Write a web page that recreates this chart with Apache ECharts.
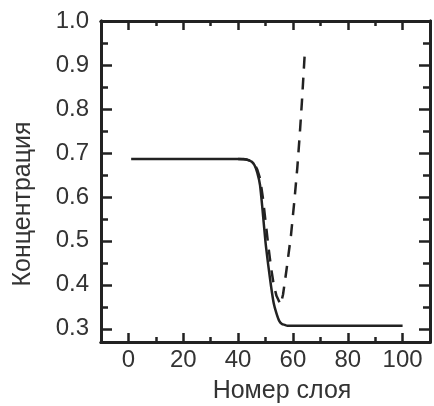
<!DOCTYPE html>
<html>
<head>
<meta charset="utf-8">
<script src="https://cdn.jsdelivr.net/npm/echarts@6/dist/echarts.min.js"></script>
<style>
html,body{margin:0;padding:0;background:#fff;}
#chart{width:434px;height:406px;}
</style>
</head>
<body>
<div id="chart"></div>
<script>
// ---- data ----
const xTicks = [0, 20, 40, 60, 80, 100];
const xMinorTicks = [10, 30, 50, 70, 90];
const yTicks = [0.3, 0.4, 0.5, 0.6, 0.7, 0.8, 0.9, 1.0];
const yMinorTicks = [0.35, 0.45, 0.55, 0.65, 0.75, 0.85, 0.95];

const xTitle = 'Номер слоя';
const yTitle = 'Концентрация';

const solidX = [1, 10, 20, 30, 40, 42, 43, 44, 45, 46, 47, 48, 49, 50, 51, 52, 53, 54, 55, 56, 57, 58, 60, 70, 80, 90, 100];
const solidY = [0.686, 0.686, 0.686, 0.686, 0.686, 0.686, 0.685, 0.683, 0.680, 0.672, 0.655, 0.627, 0.565, 0.497, 0.445, 0.398, 0.358, 0.335, 0.318, 0.311, 0.309, 0.307, 0.307, 0.307, 0.307, 0.307, 0.307];

const dashX = [40, 43, 45, 46, 47, 48, 49, 50, 51, 52, 53, 54, 55.5, 56.4, 57.7, 59.3, 60.5, 61.6, 62.5, 63.3, 64.4];
const dashY = [0.686, 0.685, 0.681, 0.674, 0.662, 0.642, 0.600, 0.545, 0.490, 0.440, 0.400, 0.375, 0.355, 0.378, 0.436, 0.513, 0.589, 0.666, 0.742, 0.818, 0.935];

// ---- chart ----
const FONT = "'Liberation Sans', Arial, sans-serif";
const INK = '#222';
const TXT = '#333';
const X_MIN = -10, X_MAX = 110, Y_MIN = 0.27, Y_MAX = 1.0;

function xAxisDef(pos, vals, len, labels) {
  return {
    type: 'value', position: pos, min: X_MIN, max: X_MAX,
    axisLine: {show: true, onZero: false, lineStyle: {color: INK, width: 3}},
    axisTick: {show: true, inside: true, length: len, customValues: vals, lineStyle: {color: INK, width: 2.5}},
    axisLabel: labels ? {show: true, customValues: vals, margin: 6, fontSize: 24, color: TXT, fontFamily: FONT} : {show: false},
    splitLine: {show: false}
  };
}
function yAxisDef(pos, vals, len, labels) {
  return {
    type: 'value', position: pos, min: Y_MIN, max: Y_MAX,
    axisLine: {show: true, onZero: false, lineStyle: {color: INK, width: 3}},
    axisTick: {show: true, inside: true, length: len, customValues: vals, lineStyle: {color: INK, width: 2.5}},
    axisLabel: labels ? {show: true, customValues: vals, margin: 12, fontSize: 24, color: TXT, fontFamily: FONT,
      formatter: v => v.toFixed(1)} : {show: false},
    splitLine: {show: false}
  };
}

const chart = echarts.init(document.getElementById('chart'), null, {renderer: 'canvas'});
chart.setOption({
  backgroundColor: '#fff',
  animation: false,
  grid: {left: 101, right: 4, top: 21, bottom: 64, containLabel: false},
  xAxis: [
    xAxisDef('bottom', xTicks, 9, true),
    xAxisDef('bottom', xMinorTicks, 5, false),
    xAxisDef('top', xTicks, 9, false),
    xAxisDef('top', xMinorTicks, 5, false)
  ],
  yAxis: [
    yAxisDef('left', yTicks, 11, true),
    yAxisDef('left', yMinorTicks, 7, false),
    yAxisDef('right', yTicks, 11, false),
    yAxisDef('right', yMinorTicks, 7, false)
  ],
  graphic: [
    {type: 'text', x: 282, y: 391, style: {text: xTitle, fontSize: 25, fontFamily: FONT, fill: TXT, textAlign: 'center', textVerticalAlign: 'middle'}},
    {type: 'text', x: 23, y: 204, rotation: Math.PI / 2, style: {text: yTitle, fontSize: 25, fontFamily: FONT, fill: TXT, textAlign: 'center', textVerticalAlign: 'middle'}}
  ],
  series: [
    {
      type: 'line', xAxisIndex: 0, yAxisIndex: 0, symbol: 'none', smooth: false,
      lineStyle: {color: INK, width: 2.5, type: [12, 9]},
      data: dashX.map((x, i) => [x, dashY[i]])
    },
    {
      type: 'line', xAxisIndex: 0, yAxisIndex: 0, symbol: 'none', smooth: 0.2,
      lineStyle: {color: INK, width: 2.5},
      data: solidX.map((x, i) => [x, solidY[i]])
    }
  ]
});
</script>
</body>
</html>
